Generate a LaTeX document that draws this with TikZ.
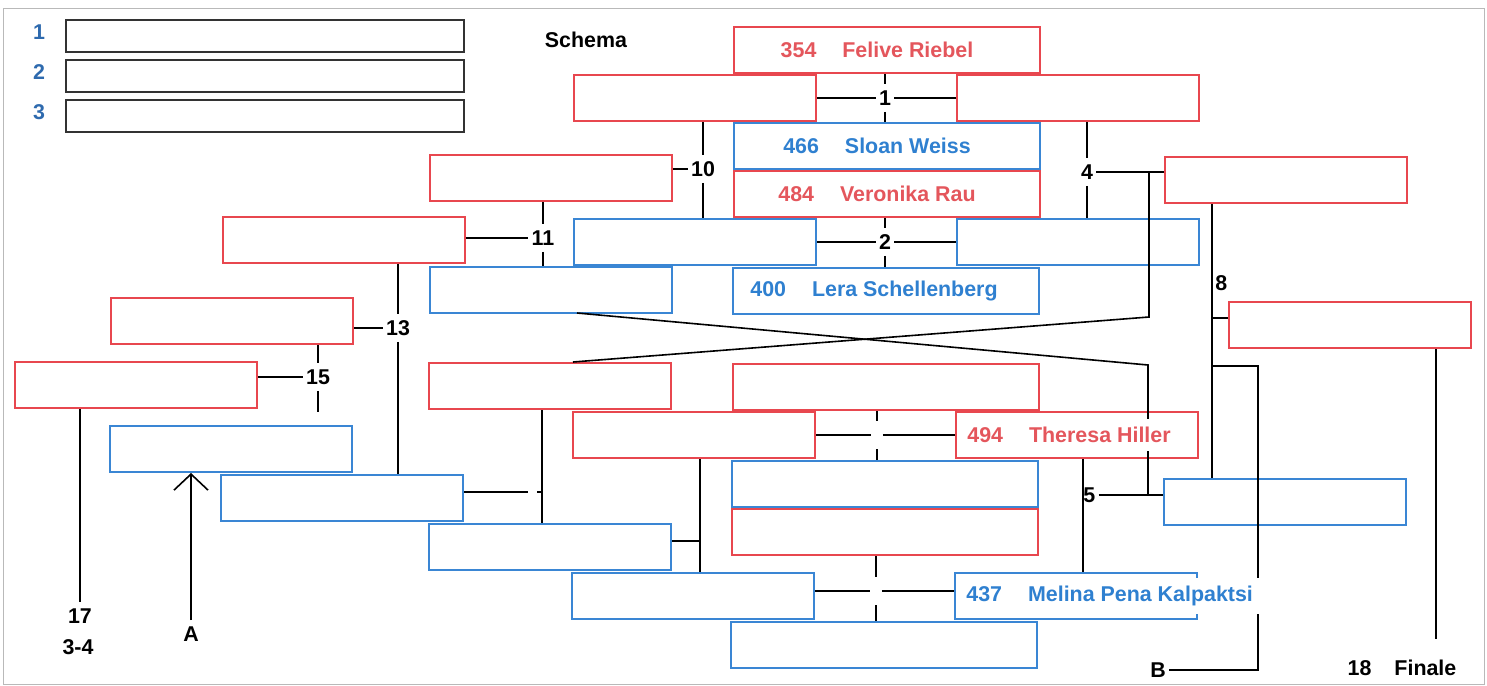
\documentclass[tikz,border=0pt]{standalone}
\usepackage{fontspec}
\setmainfont{Liberation Sans}
\usetikzlibrary{positioning,arrows.meta}
\definecolor{boxred}{HTML}{E8474F}
\definecolor{txtred}{HTML}{E4565C}
\definecolor{boxblue}{HTML}{3A86D4}
\definecolor{txtblue}{HTML}{2F80D0}
\definecolor{legblue}{HTML}{2E6AAE}
\newcommand\lab{\fontsize{10.7}{12}\selectfont\bfseries}
\newcommand\plr[2]{#1\hspace{13pt}#2}
\tikzset{
  slot/.style={line width=1pt, minimum width=121pt, minimum height=23pt, inner sep=0pt},
  redbox/.style={slot, draw=boxred},
  bluebox/.style={slot, draw=boxblue},
  widebox/.style={minimum width=153pt},
  legbox/.style={draw=black!80, line width=1pt, minimum width=199pt, minimum height=16pt, inner sep=0pt},
  nr/.style={font=\lab, inner xsep=1.5pt, inner ysep=3pt},
  pname/.style={font=\lab, fill=white, inner sep=4pt},
  gapnode/.style={minimum width=5.5pt, minimum height=14pt, inner sep=0pt},
  conn/.style={line width=0.8pt}
}
\begin{document}
\begin{tikzpicture}[x=0.5pt,y=-0.5pt]
\useasboundingbox (0,0) rectangle (1487,685);
\draw[gray!55,line width=0.4pt] (3,8) rectangle (1484,684);

% Legende
\foreach \i/\y in {1/36,2/76,3/116} {
  \node[legbox] (leg\i) at (265,\y) {};
  \node[nr,text=legblue] (legnr\i) at (39,\y-4) {\i};
}
\node[font=\lab] (schema) at (586,40) {Schema};

% Mittelspalte
\foreach \n/\s/\x/\y in {c1/redbox/887/50,c2/bluebox/887/146,c3/redbox/887/194,c4/bluebox/886/291,
  c5/redbox/886/387,c6/bluebox/885/484,c7/redbox/885/532,c8/bluebox/884/645}
  \node[\s,widebox] (\n) at (\x,\y) {};

% Felder links und rechts
\foreach \n/\s/\x/\y in {a1/redbox/695/98,a2/bluebox/695/242,a3/redbox/694/435,a4/bluebox/693/596,
  b1/redbox/1078/98,b2/bluebox/1078/242,b3/redbox/1077/435,b4/bluebox/1076/596,
  d1/redbox/551/178,d2/bluebox/551/290,d3/redbox/550/386,d4/bluebox/550/547,
  e1/redbox/344/240,e2/bluebox/342/498,f1/redbox/232/321,f2/bluebox/231/449,
  g1/redbox/136/385,h1/redbox/1286/180,h2/bluebox/1285/502,k1/redbox/1350/325}
  \node[\s] (\n) at (\x,\y) {};

% Nummern
\node[nr] (n1) at (885,98) {1};
\node[nr] (n2) at (885,242) {2};
\node[gapnode] (m3) at (877,435) {};
\node[gapnode] (m4) at (876,591) {};
\node[nr] (n4) at (1087,172) {4};
\node[nr,anchor=west] (n5) at (1080,495) {5};
\node[nr,anchor=west] (n8) at (1212,283) {8};
\node[nr] (n10) at (703,169) {10};
\node[nr] (n11) at (543,238) {11};
\node[nr] (n13) at (398,328) {13};
\node[nr] (n15) at (318,377) {15};
\node[nr] (n17) at (80,616) {17};
\node[nr] (n34) at (78,647) {3-4};
\node[nr] (nA) at (191,634) {A};
\node[nr] (nB) at (1158,670) {B};
\node[nr] (n18) at (1402,668) {18\hspace{11.5pt}Finale};

\coordinate (e15) at (318,412);
\coordinate (j4a) at (1149,317);
\coordinate (j4b) at (573,362);
\coordinate (j5a) at (577,313);
\coordinate (j5b) at (1148,365);
\coordinate (j5c) at (1148,495);
\coordinate (v5) at (1083,0);
\coordinate (v8) at (1212,0);
\coordinate (j8) at (1212,318);
\coordinate (j8b) at (1212,366);
\coordinate (cB1) at (1258,366);
\coordinate (cB2) at (1258,670);
\coordinate (cF) at (1436,639);
\coordinate (v542) at (542,492);
\coordinate (g542a) at (528,492);
\coordinate (g542b) at (537,492);
\coordinate (v700) at (700,541);

% Verbindungen
\draw[conn] (a1) -- (n1) -- (b1);
\draw[conn] (c1.south -| n1) -- (n1) -- (c2.north -| n1);
\draw[conn] (a2) -- (n2) -- (b2);
\draw[conn] (c3.south -| n2) -- (n2) -- (c4.north -| n2);
\draw[conn] (a3) -- (m3) -- (b3);
\draw[conn] (c5.south -| m3) -- (m3) -- (c6.north -| m3);
\draw[conn] (a4.east |- m4) -- (m4) -- (b4.west |- m4);
\draw[conn] (c7.south -| m4) -- (m4) -- (c8.north -| m4);
\draw[conn] (b1.south -| n4) -- (n4) -- (b2.north -| n4);
\draw[conn] (n4) -- (n4 -| h1.west);
\draw[conn] (j4a |- n4) -- (j4a) -- (j4b);
\draw[conn] (j5a) -- (j5b) -- (j5c);
\draw[conn] (b3.south -| v5) -- (b4.north -| v5);
\draw[conn] (n5) -- (n5 -| h2.west);
\draw[conn] (h1.south -| v8) -- (h2.north -| v8);
\draw[conn] (j8) -- (j8 -| k1.west);
\draw[conn] (j8b) -- (cB1) -- (cB2) -- (nB);
\draw[conn] (k1.south -| cF) -- (cF);
\draw[conn] (d1.east |- n10) -- (n10);
\draw[conn] (a1.south -| n10) -- (n10) -- (a2.north -| n10);
\draw[conn] (e1.east |- n11) -- (n11);
\draw[conn] (d1.south -| n11) -- (n11) -- (d2.north -| n11);
\draw[conn] (f1.east |- n13) -- (n13);
\draw[conn] (e1.south -| n13) -- (n13) -- (e2.north -| n13);
\draw[conn] (g1.east |- n15) -- (n15);
\draw[conn] (f1.south -| n15) -- (n15) -- (e15);
\draw[conn] (g1.south -| n17) -- (n17);
\draw[conn,-{Straight Barb[length=8pt,width=17pt]}] (nA) -- (f2.south -| nA);
\draw[conn] (d3.south -| v542) -- (d4.north -| v542);
\draw[conn] (e2.east |- v542) -- (g542a);
\draw[conn] (g542b) -- (v542);
\draw[conn] (a3.south -| v700) -- (a4.north -| v700);
\draw[conn] (d4.east |- v700) -- (v700);

% Namen
\node[pname,text=txtred] (t354) at ([xshift=-5pt]c1.center) {\plr{354}{Felive Riebel}};
\node[pname,text=txtblue] (t466) at ([xshift=-5pt]c2.center) {\plr{466}{Sloan Weiss}};
\node[pname,text=txtred] (t484) at ([xshift=-5pt]c3.center) {\plr{484}{Veronika Rau}};
\node[pname,text=txtblue] (t400) at ([xshift=-6pt]c4.center) {\plr{400}{Lera Schellenberg}};
\node[pname,text=txtred,right=2pt of b3.west] (t494) {\plr{494}{Theresa Hiller}};
\node[pname,text=txtblue,right=2pt of b4.west] (t437) {\plr{437}{Melina Pena Kalpaktsi}};
\end{tikzpicture}
\end{document}
